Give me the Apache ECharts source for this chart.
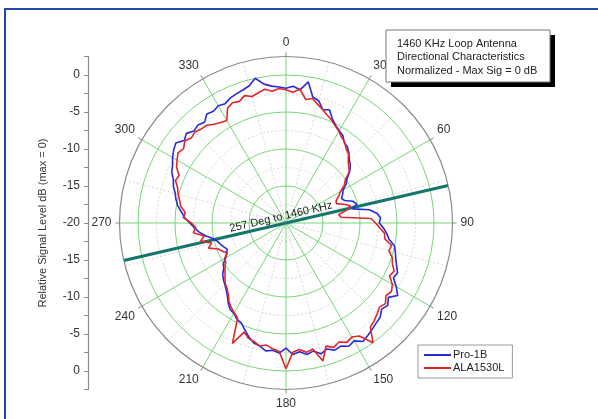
<!DOCTYPE html>
<html>
<head>
<meta charset="utf-8">
<script src="https://cdn.jsdelivr.net/npm/echarts@6/dist/echarts.min.js"></script>
<style>
  html, body { margin: 0; padding: 0; background: #fff; }
  #chart { width: 598px; height: 419px; }
</style>
</head>
<body>
<div id="chart"></div>
<script>
// Bearings of the measurements, degrees clockwise from north
const bearings = [
  0, 3, 6, 9, 12, 15, 18, 21, 24, 27, 30, 33, 36, 39, 42, 45, 48, 51, 54, 57,
  60, 63, 66, 69, 72, 75, 78, 81, 84, 87, 90, 93, 96, 99, 102, 105, 108, 111, 114, 117,
  120, 123, 126, 129, 132, 135, 138, 141, 144, 147, 150, 153, 156, 159, 162, 165, 168, 171, 174, 177,
  180, 183, 186, 189, 192, 195, 198, 201, 204, 207, 210, 213, 216, 219, 222, 225, 228, 231, 234, 237,
  240, 243, 246, 249, 252, 255, 258, 261, 264, 267, 270, 273, 276, 279, 282, 285, 288, 291, 294, 297,
  300, 303, 306, 309, 312, 315, 318, 321, 324, 327, 330, 333, 336, 339, 342, 345, 348, 351, 354, 357
];

// Normalized signal level (dB, max = 0) — Pro-1B receiver
const pro1B = [
  -1.8, -1.5, -1.9, -0.7, -2.6, -2.9, -3.9, -3.6, -4.6, -5.2, -5.6, -5.9, -6.6, -6.8, -7.3, -7.9, -8.3, -8.9, -9.8, -10.3,
  -11.1, -11.4, -11.8, -11.5, -10.5, -10.1, -10.8, -8.6, -7.6, -7.2, -7.4, -6.8, -6.3, -5.9, -5.0, -4.7, -4.4, -4.0, -3.5, -3.7,
  -2.8, -2.0, -2.9, -2.3, -2.6, -2.0, -1.8, -1.5, -1.2, -0.9, -1.6, -1.3, -1.8, -1.6, -2.1, -1.7, -2.3, -2.0, -2.5, -2.2,
  -3.1, -2.4, -2.7, -2.5, -3.0, -3.2, -3.8, -4.5, -5.2, -5.4, -5.9, -6.1, -6.7, -7.4, -7.9, -8.3, -8.6, -9.0, -9.6, -9.9,
  -10.6, -11.0, -11.3, -11.0, -10.7, -10.4, -9.9, -9.0, -8.2, -7.6, -7.0, -6.3, -5.8, -5.2, -4.8, -4.5, -4.0, -3.7, -3.1, -2.8,
  -2.3, -1.9, -1.6, -2.3, -1.9, -2.4, -2.2, -2.5, -1.8, -2.0, -1.7, -1.9, -1.5, -1.3, -1.1, -0.8, 0.0, -1.0, -1.4, -1.6
];

// Normalized signal level (dB, max = 0) — ALA1530L loop
const ala1530L = [
  -2.0, -2.3, -1.8, -3.1, -2.8, -3.4, -3.9, -4.4, -4.8, -5.3, -5.7, -6.2, -6.5, -7.1, -7.4, -8.1, -8.6, -9.0, -10.1, -10.6,
  -11.5, -12.0, -12.6, -12.7, -11.8, -11.0, -11.6, -12.8, -12.5, -8.5, -7.9, -7.3, -6.6, -6.5, -5.4, -5.6, -4.9, -4.6, -4.0, -4.3,
  -3.4, -3.0, -3.3, -2.7, -3.0, -2.6, -2.2, -1.9, 0.0, -1.8, -2.2, -1.9, -2.4, -2.0, -2.5, -0.7, -2.6, -2.3, -2.8, -2.5,
  -0.3, -2.6, -2.9, -3.3, -3.0, -3.4, -3.6, -4.2, -2.2, -5.6, -6.0, -6.4, -6.9, -7.6, -8.1, -8.4, -8.9, -9.4, -9.8, -10.3,
  -10.4, -11.1, -10.6, -10.2, -9.0, -9.6, -8.2, -8.8, -7.4, -7.8, -7.2, -6.1, -6.3, -5.6, -5.3, -4.9, -4.6, -4.0, -4.2, -3.4,
  -3.0, -2.6, -2.9, -2.4, -2.8, -2.6, -2.9, -3.0, -3.5, -3.8, -4.0, -2.6, -2.2, -2.4, -1.9, -2.3, -2.0, -1.7, -2.1, -1.8
];

// Bearing toward the 1460 KHz transmitter
const stationBearing = 257;

// Radial scale: center is -20 dB, outer ring +2.5 dB
const levelTicks = [-20, -15, -10, -5, 0];
const seriesNames = ['Pro-1B', 'ALA1530L'];
const infoLines = ['1460 KHz Loop Antenna', 'Directional Characteristics', 'Normalized - Max Sig = 0 dB'];

const FONT = 'Arial, "Liberation Sans", Helvetica, sans-serif';
const CX = 286, CY = 223, R = 166.5;
const RMIN = levelTicks[0], RMAX = 2.5;

function closedLoop(levels) {
  const pts = bearings.map((b, i) => [levels[i], b]);
  pts.push([levels[0], 360]);
  return pts;
}

const chart = echarts.init(document.getElementById('chart'), null, { renderer: 'canvas' });

const green = '#77d677';
const minorGrey = '#d9d9d9';

const option = {
  animation: false,
  backgroundColor: '#fff',
  textStyle: { fontFamily: FONT },
  polar: { center: [CX, CY], radius: R },
  angleAxis: {
    type: 'value', min: 0, max: 360, interval: 30,
    startAngle: 90, clockwise: true,
    axisLine: { show: true, lineStyle: { color: '#8a8a8a', width: 1.2 } },
    axisTick: { show: true, length: 4, lineStyle: { color: '#8a8a8a' } },
    axisLabel: {
      show: true, margin: 8, align: 'center', verticalAlign: 'middle',
      color: '#333', fontSize: 12, fontFamily: FONT
    },
    splitLine: { show: true, lineStyle: { color: green, width: 1 } },
    minorTick: { show: false, splitNumber: 2 },
    minorSplitLine: { show: true, lineStyle: { color: minorGrey, width: 1, type: [2, 2] } }
  },
  radiusAxis: {
    type: 'value', min: RMIN, max: RMAX, interval: 5,
    axisLine: { show: false }, axisTick: { show: false }, axisLabel: { show: false },
    splitLine: { show: true, lineStyle: { color: [green, green, green, green, green, 'rgba(0,0,0,0)'], width: 1 } },
    minorTick: { show: false, splitNumber: 2 },
    minorSplitLine: { show: true, lineStyle: { color: minorGrey, width: 1, type: [2, 2] } }
  },
  grid: { left: 88, top: CY - R, height: 2 * R, width: 10, show: false },
  xAxis: { type: 'value', show: false, min: 0, max: 1 },
  yAxis: {
    type: 'value', min: -22.5, max: 22.5, interval: 2.5,
    name: 'Relative Signal Level dB (max = 0)', nameLocation: 'middle', nameGap: 40,
    nameTextStyle: { color: '#333', fontSize: 11, fontFamily: FONT },
    axisLine: { show: true, lineStyle: { color: '#8a8a8a', width: 1.2 } },
    axisTick: { show: true, inside: false, length: 4, lineStyle: { color: '#8a8a8a' } },
    axisLabel: {
      color: '#333', fontSize: 12, margin: 8, fontFamily: FONT,
      formatter: v => (Math.abs(v) % 5 === 0 ? String(Math.abs(v) + RMIN) : '')
    },
    splitLine: { show: false }
  },
  legend: {
    data: seriesNames,
    orient: 'vertical', left: 418, top: 345,
    icon: 'rect', itemWidth: 27, itemHeight: 2, itemGap: 1,
    backgroundColor: '#fff', borderColor: '#9a9a9a', borderWidth: 1, borderRadius: 0,
    padding: [4, 8, 4, 6],
    textStyle: { color: '#222', fontSize: 11, fontFamily: FONT, lineHeight: 12, padding: [0, 0, 0, -3] }
  },
  series: [
    {
      name: 'heading', type: 'line', coordinateSystem: 'polar',
      data: [[RMAX, stationBearing], [RMIN, stationBearing], [RMAX, (stationBearing + 180) % 360]],
      symbol: 'none', silent: true, z: 3,
      lineStyle: { color: '#14756d', width: 3 }
    },
    {
      name: seriesNames[0], type: 'line', coordinateSystem: 'polar',
      data: closedLoop(pro1B), symbol: 'none', z: 4,
      color: '#2a2ad6', lineStyle: { color: '#2a2ad6', width: 1.6 }
    },
    {
      name: seriesNames[1], type: 'line', coordinateSystem: 'polar',
      data: closedLoop(ala1530L), symbol: 'none', z: 5,
      color: '#e0262a', lineStyle: { color: '#e0262a', width: 1.6 }
    }
  ],
  graphic: [
    // page frame
    { type: 'line', shape: { x1: 5, y1: 8, x2: 5, y2: 419 }, style: { stroke: '#2346a8', lineWidth: 2 } },
    { type: 'line', shape: { x1: 4, y1: 9, x2: 598, y2: 9 }, style: { stroke: '#2346a8', lineWidth: 2 } },
    // heading label along the bearing line
    {
      type: 'text', x: 281, y: 217, rotation: (90 - ((stationBearing + 180) % 360)) * Math.PI / 180, z: 10,
      style: {
        text: stationBearing + ' Deg to 1460 KHz', font: '11px ' + FONT, fill: '#222',
        textAlign: 'center', textVerticalAlign: 'middle'
      }
    },
    // information box with drop shadow
    { type: 'rect', shape: { x: 391, y: 35, width: 164, height: 52 }, style: { fill: '#000' }, z: 10 },
    { type: 'rect', shape: { x: 386, y: 30, width: 164, height: 52 }, style: { fill: '#fff', stroke: '#777', lineWidth: 1 }, z: 11 },
    {
      type: 'text', x: 397, y: 37, z: 12,
      style: { text: infoLines.join('\n'), font: '11px ' + FONT, fill: '#222', lineHeight: 13.5 }
    }
  ]
};

chart.setOption(option);
</script>
</body>
</html>
